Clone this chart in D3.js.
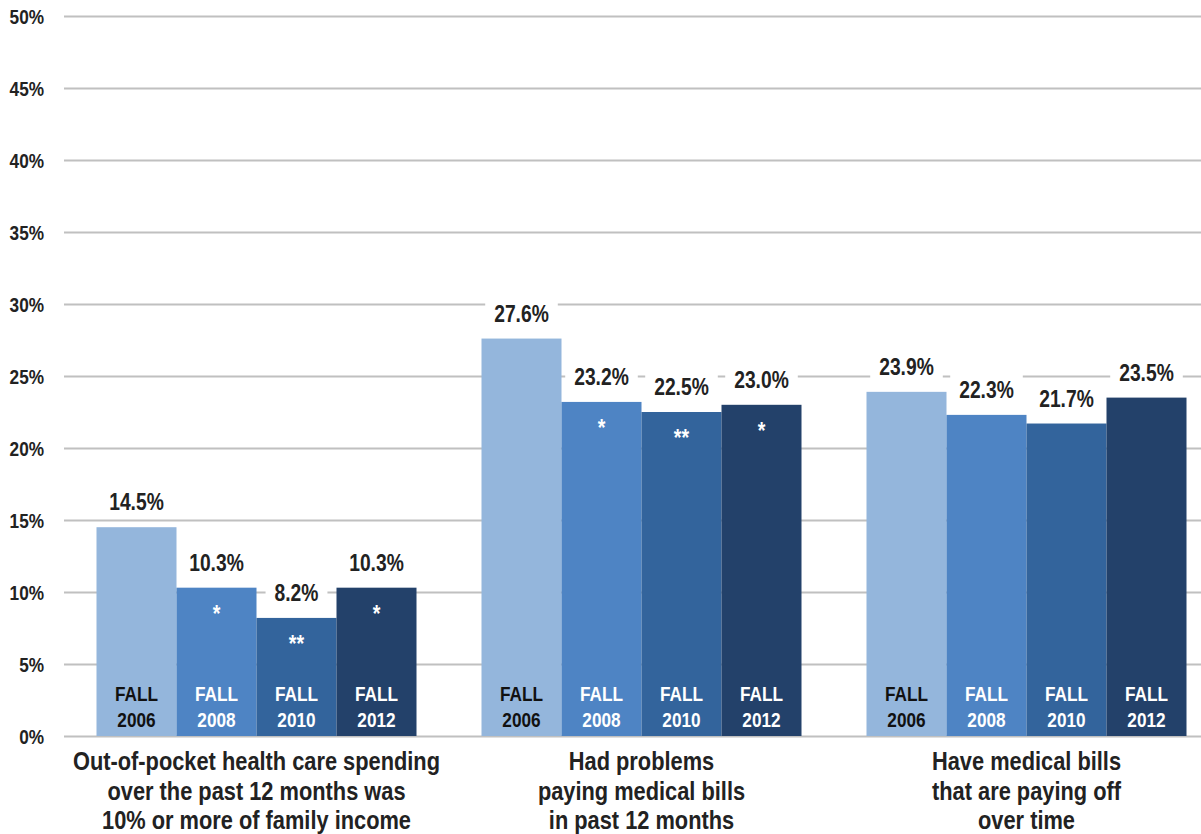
<!DOCTYPE html>
<html>
<head>
<meta charset="utf-8">
<script src="https://cdn.jsdelivr.net/npm/d3@7"></script>
<style>
  html, body { margin: 0; padding: 0; background: #ffffff; }
  svg { display: block; }
  text { font-family: "Liberation Sans", Arial, sans-serif; font-weight: bold; }
</style>
</head>
<body>
<script>
// ---- Data ----
const categories = [
  "Out-of-pocket health care spending over the past 12 months was 10% or more of family income",
  "Had problems paying medical bills in past 12 months",
  "Have medical bills that are paying off over time"
];
const categoryLines = [
  ["Out-of-pocket health care spending", "over the past 12 months was", "10% or more of family income"],
  ["Had problems", "paying medical bills", "in past 12 months"],
  ["Have medical bills", "that are paying off", "over time"]
];
const seriesNames = ["FALL 2006", "FALL 2008", "FALL 2010", "FALL 2012"];
const seriesLine1 = ["FALL", "FALL", "FALL", "FALL"];
const seriesLine2 = ["2006", "2008", "2010", "2012"];
const fall2006 = [14.5, 27.6, 23.9];
const fall2008 = [10.3, 23.2, 22.3];
const fall2010 = [8.2, 22.5, 21.7];
const fall2012 = [10.3, 23.0, 23.5];
const sig2006 = ["", "", ""];
const sig2008 = ["*", "*", ""];
const sig2010 = ["**", "**", ""];
const sig2012 = ["*", "*", ""];
const yTicks = [0, 5, 10, 15, 20, 25, 30, 35, 40, 45, 50];

const seriesValues = [fall2006, fall2008, fall2010, fall2012];
const seriesSig = [sig2006, sig2008, sig2010, sig2012];
const colors = ["#94b6dc", "#4e84c4", "#33649c", "#23416a"];
const innerTextColors = ["#111111", "#ffffff", "#ffffff", "#ffffff"];
const NARROW = 0.82; // condensed look (Arial Narrow proportions)

// ---- Layout ----
const W = 1201, H = 834;
const margin = { left: 64, right: -18, top: 16, bottom: 98 };

const svg = d3.select("body").append("svg").attr("width", W).attr("height", H);

const y = d3.scaleLinear().domain([0, 50]).range([H - margin.bottom, margin.top]);
const x0 = d3.scaleBand().domain(categories)
  .range([margin.left, W - margin.right])
  .paddingInner(65 / 385).paddingOuter(32.5 / 385);
const x1 = d3.scaleBand().domain(seriesNames).range([0, x0.bandwidth()]);

function narrowText(parent, x, yy, str, size, fill, anchor) {
  const g = parent.append("g").attr("transform", `translate(${x},${yy}) scale(${NARROW},1)`);
  const t = g.append("text").attr("x", 0).attr("y", 0)
    .attr("text-anchor", anchor || "middle")
    .attr("fill", fill)
    .style("font-size", size + "px")
    .text(str);
  return { g, t };
}

// gridlines + tick labels
const yAxis = d3.axisLeft(y).tickValues(yTicks)
  .tickSize(-(W - margin.right - margin.left))
  .tickFormat(d => d + "%");
const gAxis = svg.append("g").attr("transform", `translate(${margin.left},0)`).call(yAxis);
gAxis.select(".domain").remove();
gAxis.selectAll(".tick line").attr("stroke", "#c0c0c0").attr("stroke-width", 2);
gAxis.selectAll(".tick text")
  .attr("x", 0).attr("dy", "0.36em")
  .attr("transform", `translate(-20,0) scale(${NARROW},1)`)
  .attr("fill", "#222222").style("font-size", "21px");

const rows = [];
categories.forEach((c, ci) => {
  seriesNames.forEach((s, si) => {
    rows.push({ cat: c, ci, s, si, v: seriesValues[si][ci], sig: seriesSig[si][ci] });
  });
});
const cxOf = d => x0(d.cat) + x1(d.s) + x1.bandwidth() / 2;

// layers: label backgrounds, bars, texts
const gBg = svg.append("g");
const gBars = svg.append("g");
const gText = svg.append("g");

gBars.selectAll("rect.bar").data(rows).enter().append("rect")
  .attr("class", "bar")
  .attr("x", d => x0(d.cat) + x1(d.s))
  .attr("y", d => y(d.v))
  .attr("width", x1.bandwidth())
  .attr("height", d => y(0) - y(d.v))
  .attr("fill", d => colors[d.si]);

rows.forEach(d => {
  const cx = cxOf(d);
  // value label with white background hiding the gridline
  const lab = narrowText(gText, cx, y(d.v) - 17, d3.format(".1f")(d.v) + "%", 23.5, "#222222");
  const bb = lab.t.node().getBBox();
  const w = bb.width * NARROW;
  gBg.append("rect").attr("fill", "#ffffff")
    .attr("x", cx - w / 2 - 9).attr("y", y(d.v) - 17 + bb.y - 3)
    .attr("width", w + 18).attr("height", bb.height + 6);
  // FALL / year inside bar
  narrowText(gText, cx, y(0) - 35, seriesLine1[d.si], 21, innerTextColors[d.si]);
  narrowText(gText, cx, y(0) - 9, seriesLine2[d.si], 21, innerTextColors[d.si]);
  // significance marker
  if (d.sig) narrowText(gText, cx, y(d.v) + 34, d.sig, 24, "#ffffff");
});

// category labels
categories.forEach((c, ci) => {
  const cx = x0(c) + x0.bandwidth() / 2;
  categoryLines[ci].forEach((line, li) => {
    narrowText(gText, cx, y(0) + 34 + li * 29.5, line, 26.6, "#222222");
  });
});
</script>
</body>
</html>
